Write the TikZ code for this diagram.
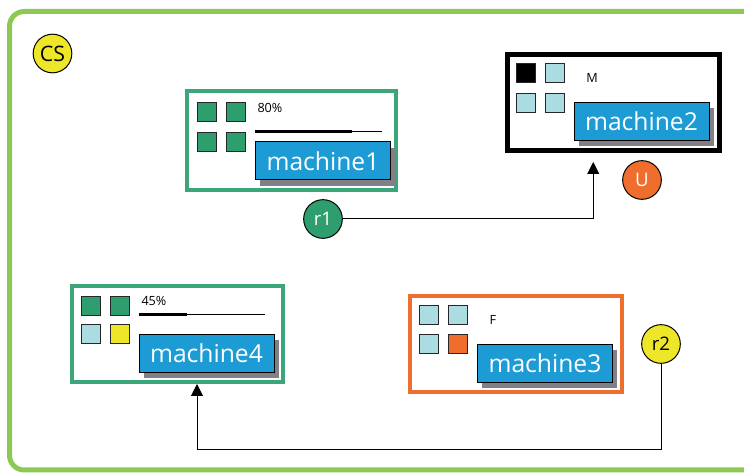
\documentclass[tikz,border=0pt]{standalone}
\usepackage{fontspec}
\setmainfont{Open Sans}
\usetikzlibrary{arrows.meta,shadows,fit}

\definecolor{framegreen}{RGB}{140,200,82}
\definecolor{boxgreen}{RGB}{58,166,122}
\definecolor{cellgreen}{RGB}{46,158,110}
\definecolor{cellblue}{RGB}{170,220,225}
\definecolor{cellyellow}{RGB}{238,230,40}
\definecolor{mainorange}{RGB}{240,110,45}
\definecolor{labelblue}{RGB}{28,155,212}
\definecolor{shadowgray}{RGB}{128,128,134}

\tikzset{every picture/.style={line width=0.75pt}}
\tikzset{
  machinebox/.style={rectangle, draw=#1, line width=3pt, inner sep=0pt},
  cell/.style={rectangle, draw=black!85, fill=#1, line width=0.75pt, minimum size=14pt, inner sep=0pt, anchor=north west},
  namebox/.style={rectangle, draw=black, fill=labelblue, text=white, line width=0.75pt, minimum width=101.25pt, minimum height=28.5pt, inner sep=0pt, font=\fontsize{18.5}{21}\selectfont, drop shadow={shadow xshift=3.5pt, shadow yshift=-4.5pt, fill=shadowgray, opacity=1}},
  tag/.style={circle, draw=black, fill=#1, line width=0.75pt, minimum size=29pt, inner sep=0pt, font=\fontsize{14}{16}\selectfont},
  note/.style={inner sep=0.75pt, font=\fontsize{9.5}{11}\selectfont},
  link/.style={-{Triangle[width=9pt,length=9pt]}, line width=0.75pt},
}

\begin{document}
\begin{tikzpicture}[x=0.75pt,y=0.75pt,yscale=-1,xscale=1]
\useasboundingbox (0,0) rectangle (744,474);

%Rounded Rect: outer frame
\draw [color=framegreen, line width=3.75pt, rounded corners=11pt] (9.5,11.5) rectangle (770,470);

%Shape: Rectangle (machines)
\node [machinebox=boxgreen, fit={(186.5,91) (395.5,190.5)}] (m1) {};
\node [machinebox=black, line width=3.75pt, fit={(507,55) (719.5,150.5)}] (m2) {};
\node [machinebox=mainorange, fit={(410,296.5) (622,392)}] (m3) {};
\node [machinebox=boxgreen, fit={(72,286) (283,382)}] (m4) {};

%Shape: Square (slots of machine1)
\node [cell=cellgreen] (c11) at (197,102) {};
\node [cell=cellgreen] (c12) at (226,102) {};
\node [cell=cellgreen] (c13) at (197,132) {};
\node [cell=cellgreen] (c14) at (226,132) {};
%Shape: Square (slots of machine2)
\node [cell=black] (c21) at (516,63) {};
\node [cell=cellblue] (c22) at (545,63) {};
\node [cell=cellblue] (c23) at (516,93) {};
\node [cell=cellblue] (c24) at (545,93) {};
%Shape: Square (slots of machine3)
\node [cell=cellblue] (c31) at (419,305) {};
\node [cell=cellblue] (c32) at (448,305) {};
\node [cell=cellblue] (c33) at (419,334) {};
\node [cell=mainorange] (c34) at (448,334) {};
%Shape: Square (slots of machine4)
\node [cell=cellgreen] (c41) at (81,296) {};
\node [cell=cellgreen] (c42) at (110,296) {};
\node [cell=cellblue] (c43) at (81,324) {};
\node [cell=cellyellow] (c44) at (110,324) {};

%Straight Lines (load bars)
\draw (255,131.5) -- (382,131.5) ;
\draw [line width=2.25pt] (255,131.5) -- (352,131.5) ;
\draw (139,314.5) -- (265,314.5) ;
\draw [line width=2.25pt] (139,314.5) -- (187,314.5) ;

%Shape: Rectangle (name plates)
\node [namebox] (lab1) at (323,161) {machine1};
\node [namebox] (lab2) at (641.5,121.5) {machine2};
\node [namebox] (lab3) at (545,363.5) {machine3};
\node [namebox] (lab4) at (206.5,353.5) {machine4};

%Shape: Circle
\node [tag=cellyellow, font=\fontsize{16}{18}\selectfont] (cs) at (52.5,53.5) {CS};
\node [tag=cellgreen, text=white] (r1) at (323,219) {r1};
\node [tag=mainorange, text=white] (u) at (642,180) {U};
\node [tag=cellyellow] (r2) at (661,344) {r2};

%Straight Lines (routes)
\draw [link] (r1) -| ([shift={(-20,9)}]m2.south) ;
\coordinate (r2turn) at (661,450);
\draw [link] (r2) -- (r2turn) -| ([shift={(19.5,0)}]m4.south) ;

% Text Node
\node [note, anchor=west] (pct1) at (256,107.5) {80\%};
% Text Node
\node [note] (st2) at (592,78) {M};
% Text Node
\node [note] (st3) at (493,320) {F};
% Text Node
\node [note, anchor=west] (pct4) at (140,301) {45\%};

\end{tikzpicture}
\end{document}
